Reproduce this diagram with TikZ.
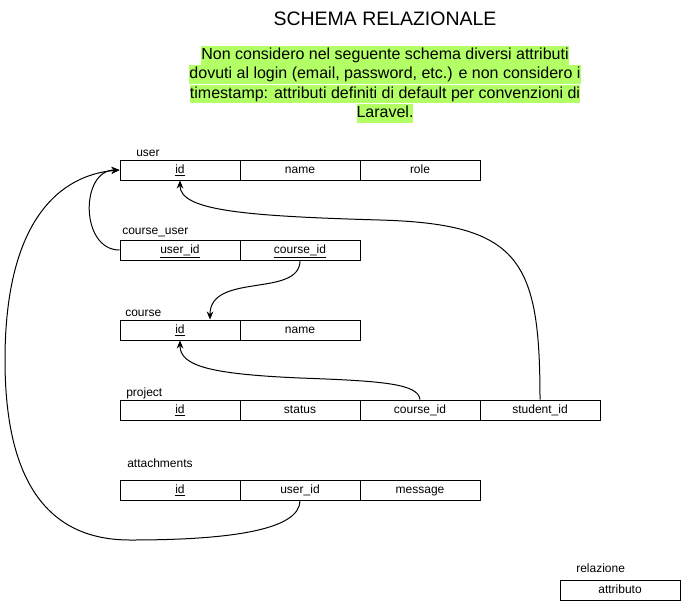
\documentclass[tikz,border=0pt]{standalone}
\usepackage{fontspec}
\setmainfont{Liberation Sans}
\usetikzlibrary{arrows.meta, positioning}
\definecolor{hlgreen}{HTML}{B3FF66}

\begin{document}
\begin{tikzpicture}[
    >=Stealth,
    x=0.75pt, y=-0.75pt,
    cell/.style={draw, line width=0.75pt, minimum width=90pt, minimum height=15pt, inner sep=0pt, text height=6.6pt, text depth=1.8pt, font=\fontsize{9}{11}\selectfont},
    rel/.style={anchor=west, inner sep=0pt, font=\fontsize{9}{11}\selectfont},
    note/.style={fill=hlgreen, inner xsep=0pt, inner ysep=0.6pt, text height=9.6pt, text depth=3.2pt, font=\fontsize{12}{14}\selectfont},
    fk/.style={->, line width=0.75pt, >={Stealth[length=6pt, width=5pt]}},
  ]
    \useasboundingbox[fill=white] (0,0) rectangle (681,601);
    % ===== titolo e nota =====
    \node[font=\fontsize{14.6}{17}\selectfont] (title) at (385,19) {SCHEMA RELAZIONALE};
    \node[note] (n1) at (385,55.5)  {Non considero nel seguente schema diversi attributi};
    \node[note] (n2) at (385,74.5)  {dovuti al login (email, password, etc.) e non considero i};
    \node[note] (n3) at (385,94)    {timestamp: attributi definiti di default per convenzioni di};
    \node[note] (n4) at (385,113.5) {Laravel.};
    % ===== user =====
    \node[rel]  (lUser)    at (136,153) {user};
    \node[cell] (userId)   at (180,170) {\underline{id}};
    \node[cell] (userName) at (300,170) {name};
    \node[cell] (userRole) at (420,170) {role};
    % ===== course_user =====
    \node[rel]  (lCU)       at (122,232) {course\_user};
    \node[cell] (cuUser)    at (180,250) {\underline{user\_id}};
    \node[cell] (cuCourse)  at (300,250) {\underline{course\_id}};
    % ===== course =====
    \node[rel]  (lCourse)    at (125,313) {course};
    \node[cell] (courseId)   at (180,330) {\underline{id}};
    \node[cell] (courseName) at (300,330) {name};
    % ===== project =====
    \node[rel]  (lProject)  at (126,393) {project};
    \node[cell] (prId)      at (180,410) {\underline{id}};
    \node[cell] (prStatus)  at (300,410) {status};
    \node[cell] (prCourse)  at (420,410) {course\_id};
    \node[cell] (prStudent) at (540,410) {student\_id};
    % ===== attachments =====
    \node[rel]  (lAtt)     at (127,463) {attachments};
    \node[cell] (attId)    at (180,490) {\underline{id}};
    \node[cell] (attUser)  at (300,490) {user\_id};
    \node[cell] (attMsg)   at (420,490) {message};
    % ===== legenda =====
    \node[rel]  (lLegend)  at (576,568) {relazione};
    \node[cell] (legAttr)  at (620,590) {attributo};

    % ===== chiavi esterne =====
    \draw[fk] (cuUser.west) .. controls (80,250) and (80,170) .. (userId.west);
    \draw[fk] (prStudent.north) .. controls (540,260) and (520,224) .. (380,220)
                                .. controls (240,216) and (180,210) .. (userId.south);
    \coordinate (courseIn) at ([xshift=22.5pt]courseId.north);
    \draw[fk] (cuCourse.south) .. controls (300,298) and (210,272) .. (courseIn);
    \draw[fk] (prCourse.north) .. controls (418,384) and (385,381) .. (300,378)
                               .. controls (210,374) and (180,366) .. (courseId.south);
    \draw[fk] (attUser.south) .. controls (300,530) and (230,540) .. (130,540)
                              .. controls (40,540) and (5,470) .. (5,360)
                              .. controls (5,220) and (60,175) .. (userId.west);
  \end{tikzpicture}
\end{document}
